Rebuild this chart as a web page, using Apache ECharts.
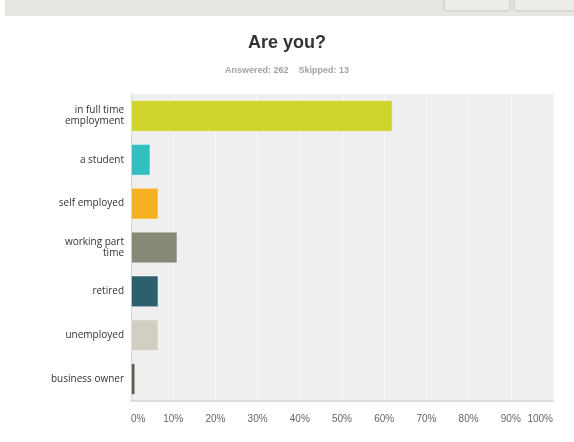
<!DOCTYPE html>
<html>
<head>
<meta charset="utf-8">
<script src="https://cdn.jsdelivr.net/npm/echarts@6/dist/echarts.min.js"></script>
<style>
  html, body { margin: 0; padding: 0; background: #fff; }
  #chart { width: 574px; height: 442px; }
</style>
</head>
<body>
<div id="chart"></div>
<script>
// Survey answers, top to bottom
const categories = [
  'in full time\nemployment',
  'a student',
  'self employed',
  'working part\ntime',
  'retired',
  'unemployed',
  'business owner'
];
// Share of respondents, percent
const shares = [62.0, 4.6, 6.5, 11.0, 6.5, 6.5, 1.0];
const barColors = ['#cfd52b', '#33bfc0', '#f7b021', '#878977', '#2e5f6c', '#d0cfc1', '#5b5d4d'];
const xTicks = [0, 10, 20, 30, 40, 50, 60, 70, 80, 90, 100];

const chart = echarts.init(document.getElementById('chart'));

chart.setOption({
  animation: false,
  backgroundColor: '#ffffff',
  graphic: [
    // page strip and buttons along the top
    { type: 'rect', shape: { x: 5, y: 0, width: 569, height: 16 }, style: { fill: '#e5e5e2' } },
    { type: 'rect', shape: { x: 444, y: -6, width: 66, height: 17, r: 3 },
      style: { fill: '#ecece8', stroke: '#c9c9c3', lineWidth: 1 } },
    { type: 'rect', shape: { x: 514, y: -6, width: 64, height: 17, r: 3 },
      style: { fill: '#ecece8', stroke: '#c9c9c3', lineWidth: 1 } },
    { type: 'text', left: 'center', top: 34,
      style: { text: 'Are you?', font: 'bold 18px "Liberation Sans", Arial, sans-serif', fill: '#333333' } },
    { type: 'text', left: 'center', top: 66,
      style: { text: 'Answered: 262    Skipped: 13', font: 'bold 9px "Liberation Sans", Arial, sans-serif', fill: '#a3a3a3' } }
  ],
  grid: {
    left: 131, right: 21, top: 94, bottom: 41,
    show: true, backgroundColor: '#efefef', borderWidth: 0
  },
  xAxis: {
    type: 'value',
    min: 0, max: 100, interval: 10,
    axisLine: { show: true, lineStyle: { color: '#dcdcdc', width: 2 } },
    axisTick: { show: false },
    splitLine: { show: true, lineStyle: { color: '#f8f8f8', width: 1 } },
    axisLabel: {
      formatter: v => xTicks.includes(v) ? v + '%' : '',
      color: '#666666',
      fontSize: 10,
      fontFamily: '"Liberation Sans", Arial, sans-serif',
      margin: 13,
      alignMinLabel: 'left',
      alignMaxLabel: 'right'
    }
  },
  yAxis: {
    type: 'category',
    data: categories,
    inverse: true,
    axisLine: { show: true, lineStyle: { color: '#d6d6d6', width: 1 } },
    axisTick: { show: false },
    axisLabel: {
      color: '#333333',
      fontSize: 10,
      fontFamily: '"Open Sans", sans-serif',
      lineHeight: 11,
      align: 'right',
      margin: 7
    }
  },
  series: [{
    type: 'bar',
    data: shares.map((v, i) => ({
      value: v,
      itemStyle: { color: barColors[i], borderColor: 'rgba(255,255,255,0.35)', borderWidth: 1 }
    })),
    barCategoryGap: '28%'
  }]
});
</script>
</body>
</html>
